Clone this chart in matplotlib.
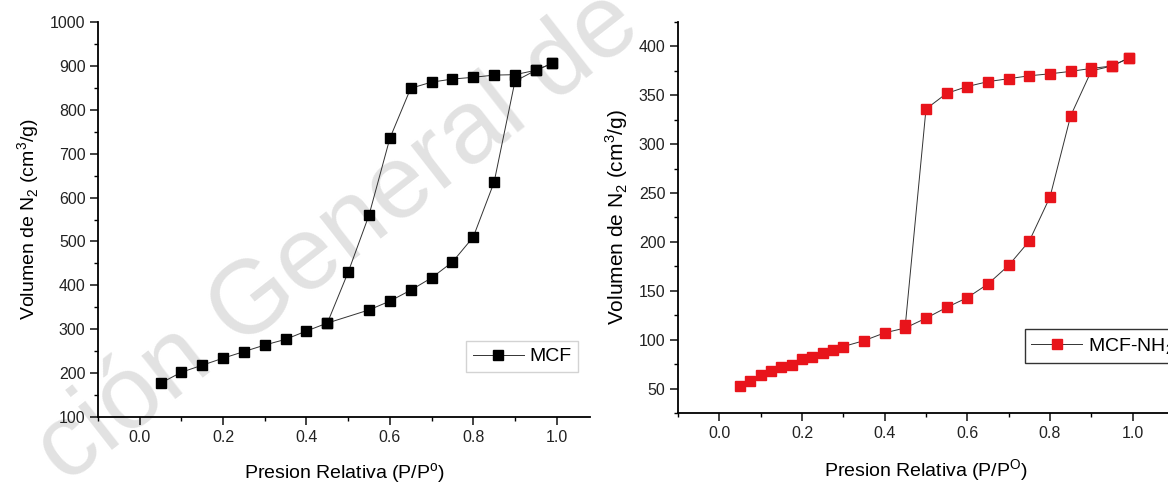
#!/usr/bin/env python3

'''
plot.py
  Two N2 adsorption / desorption isotherms side by side:
  MCF (left, black squares) and MCF-NH2 (right, red squares).
  Saves the figure as out.png.
'''

#
#   Packages and modules
#
from matplotlib import pyplot as plt
from matplotlib.ticker import MultipleLocator


#
#   Data
#

# MCF, adsorption branch
mcf_ads_p = [0.05, 0.10, 0.15, 0.20, 0.25, 0.30, 0.35, 0.40, 0.45, 0.55,
             0.60, 0.65, 0.70, 0.75, 0.80, 0.85, 0.90, 0.95, 0.99]
mcf_ads_v = [177, 202, 218, 234, 249, 264, 277, 296, 314, 344,
             364, 389, 417, 453, 510, 635, 865, 890, 906]

# MCF, desorption branch
mcf_des_p = [0.99, 0.95, 0.90, 0.85, 0.80, 0.75, 0.70, 0.65, 0.60, 0.55,
             0.50, 0.45]
mcf_des_v = [906, 890, 880, 879, 874, 870, 863, 849, 735, 560,
             430, 314]

# MCF-NH2, adsorption branch
nh2_ads_p = [0.05, 0.075, 0.10, 0.125, 0.15, 0.175, 0.20, 0.225, 0.25,
             0.275, 0.30, 0.35, 0.40, 0.45, 0.50, 0.55, 0.60, 0.65,
             0.70, 0.75, 0.80, 0.85, 0.90, 0.95, 0.99]
nh2_ads_v = [53, 58, 64, 68, 72.5, 74.5, 80, 82.5, 86.5,
             89, 93, 99, 107, 112, 122, 133, 143, 157,
             176, 201, 246, 329, 375, 380, 388]

# MCF-NH2, desorption branch
nh2_des_p = [0.99, 0.95, 0.90, 0.85, 0.80, 0.75, 0.70, 0.65, 0.60, 0.55,
             0.50, 0.45]
nh2_des_v = [388, 380, 377.5, 374.5, 372, 370, 367, 364, 359, 352,
             336, 115]

x_ticks = [0.0, 0.2, 0.4, 0.6, 0.8, 1.0]


#
#   Functions
#

def style_axes(ax):
    '''Origin-like axes: only left and bottom spines, outward ticks.'''
    ax.set_facecolor('none')
    ax.spines['top'].set_visible(False)
    ax.spines['right'].set_visible(False)
    ax.spines['left'].set_linewidth(1.3)
    ax.spines['bottom'].set_linewidth(1.3)
    ax.tick_params(which='major', direction='out', length=5.5, width=1.2,
                   labelsize=11.5, colors='#222222')
    ax.tick_params(which='minor', direction='out', length=3, width=1.0)
    ax.set_xticks(x_ticks)
    ax.xaxis.set_minor_locator(MultipleLocator(0.1))


def draw_isotherm(ax, ads_p, ads_v, des_p, des_v, color, msize, label):
    '''Plot both branches with the same marker and a thin line.'''
    line_kw = dict(color='#333333', linewidth=0.7, marker='s',
                   markersize=msize, markerfacecolor=color,
                   markeredgecolor=color)
    ax.plot(ads_p, ads_v, label=label, **line_kw)
    ax.plot(des_p, des_v, **line_kw)


def main():
    plt.rcParams['font.family'] = ['Liberation Sans', 'DejaVu Sans']
    plt.rcParams['mathtext.fontset'] = 'custom'
    plt.rcParams['mathtext.rm'] = 'Liberation Sans'

    fig = plt.figure(figsize=(11.68, 4.86), dpi=100)

    # Faint watermark behind the plots
    fig.text(0.29, 0.51, 'ción General de', fontsize=75, color='#e2e2e2',
             rotation=38, ha='center', va='center', zorder=-1)

    # Left plot: MCF
    ax1 = fig.add_axes([98 / 1168, 69 / 486, 492 / 1168, 395 / 486])
    draw_isotherm(ax1, mcf_ads_p, mcf_ads_v, mcf_des_p, mcf_des_v,
                  'black', 7, 'MCF')
    ax1.set_xlim(-0.1, 1.08)
    ax1.set_ylim(100, 1000)
    ax1.yaxis.set_major_locator(MultipleLocator(100))
    ax1.yaxis.set_minor_locator(MultipleLocator(50))
    style_axes(ax1)
    ax1.set_xlabel('Presion Relativa (P/P$^{\\mathregular{o}}$)',
                   fontsize=14, labelpad=12)
    ax1.set_ylabel('Volumen de N$_{\\mathregular{2}}$ '
                   '(cm$^{\\mathregular{3}}$/g)', fontsize=14, labelpad=6)
    leg1 = ax1.legend(loc='lower right', bbox_to_anchor=(0.996, 0.089),
                      fontsize=14, handlelength=2.6, fancybox=False,
                      borderpad=0.35, handletextpad=0.3)
    leg1.get_frame().set_edgecolor('#c8c8c8')
    leg1.get_frame().set_linewidth(1.0)

    # Right plot: MCF-NH2 (runs past the right edge, as in the original)
    ax2 = fig.add_axes([678 / 1168, 73 / 486, 496 / 1168, 391 / 486])
    draw_isotherm(ax2, nh2_ads_p, nh2_ads_v, nh2_des_p, nh2_des_v,
                  '#e8141b', 6.5, 'MCF-NH$_{\\mathregular{2}}$')
    ax2.set_xlim(-0.1, 1.1)
    ax2.set_ylim(25, 425)
    ax2.yaxis.set_major_locator(MultipleLocator(50))
    ax2.yaxis.set_minor_locator(MultipleLocator(25))
    style_axes(ax2)
    ax2.set_xlabel('Presion Relativa (P/P$^{\\mathregular{O}}$)',
                   fontsize=14, labelpad=12)
    ax2.set_ylabel('Volumen de N$_{\\mathregular{2}}$ '
                   '(cm$^{\\mathregular{3}}$/g)', fontsize=15, labelpad=6)
    leg2 = ax2.legend(loc='lower left', bbox_to_anchor=(0.679, 0.102),
                      fontsize=14, handlelength=2.6, fancybox=False,
                      borderpad=0.35, handletextpad=0.3)
    leg2.get_frame().set_edgecolor('black')
    leg2.get_frame().set_linewidth(1.0)

    fig.savefig('out.png', dpi=100)
    plt.close(fig)


if __name__ == "__main__":
    main()
